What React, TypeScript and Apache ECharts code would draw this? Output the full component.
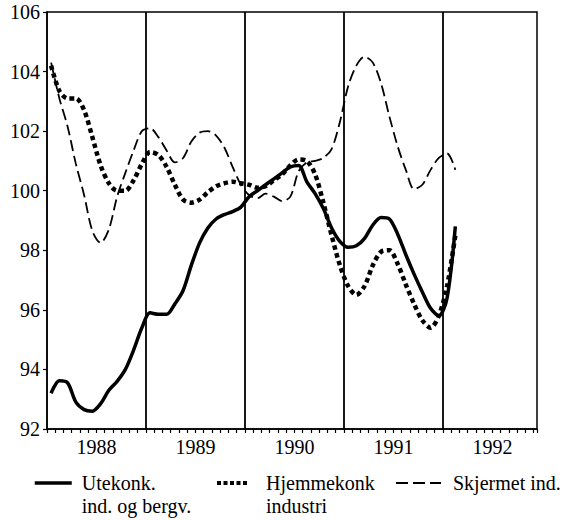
import { useEffect, useRef } from "react";
import * as echarts from "echarts";

const years = [1988, 1989, 1990, 1991, 1992];
const seriesNames = ["Utekonk. ind. og bergv.", "Hjemmekonk industri", "Skjermet ind."];
const legendLines = [["Utekonk.", "ind. og bergv."], ["Hjemmekonk", "industri"], ["Skjermet ind."]];

// Monthly values, Jan 1988 – Feb 1992
const utekonk = [
  93.2, 93.62, 93.55, 92.9, 92.65, 92.6, 92.85, 93.3, 93.6, 94.0,
  94.65, 95.4, 95.9, 95.85, 95.85, 96.2, 96.65, 97.5, 98.25, 98.75,
  99.05, 99.2, 99.3, 99.45, 99.8, 100.0, 100.2, 100.4, 100.6, 100.8,
  100.85, 100.3, 99.9, 99.4, 98.75, 98.3, 98.1, 98.15, 98.4, 98.85,
  99.1, 99.05, 98.55, 97.85, 97.2, 96.6, 96.05, 95.8, 96.4, 98.8,
];
const hjemmekonk = [
  104.2, 103.35, 103.1, 103.1, 102.7, 101.8, 100.85, 100.25, 100.0, 100.0,
  100.35, 100.9, 101.3, 101.2, 100.8, 100.2, 99.7, 99.6, 99.7, 99.95,
  100.15, 100.25, 100.3, 100.25, 100.2, 100.1, 100.15, 100.35, 100.55, 100.85,
  101.05, 101.0, 100.55, 99.6, 98.5, 97.5, 96.8, 96.5, 96.8, 97.5,
  97.95, 98.0, 97.55, 96.85, 96.2, 95.65, 95.4, 95.8, 96.8, 98.5,
];
const skjermet = [
  104.3, 103.1, 102.15, 100.9, 99.85, 98.65, 98.25, 98.7, 99.8, 100.6,
  101.35, 102.0, 102.1, 101.8, 101.35, 100.95, 101.1, 101.65, 101.95, 102.0,
  101.85, 101.45, 100.8, 100.2, 99.85, 99.75, 99.9, 99.8, 99.65, 99.8,
  100.65, 100.95, 101.0, 101.1, 101.4, 102.3, 103.5, 104.2, 104.5, 104.3,
  103.6, 102.5, 101.5, 100.7, 100.05, 100.2, 100.7, 101.1, 101.25, 100.7,
];

const FONT = "'Liberation Serif', 'Times New Roman', serif";

function toPoints(values: number[]) {
  return values.map((v, i) => [i + 0.5, v]);
}

export default function App() {
  const ref = useRef<HTMLDivElement>(null);
  useEffect(() => {
    document.body.style.margin = "0";
    const chart = echarts.init(ref.current!, null, { renderer: "svg" });
    const lineStyles = [
      { color: "#000", width: 3.5, type: "solid" as const },
      { color: "#000", width: 4.5, type: [4.5, 3.5] as any, cap: "butt" as const },
      { color: "#000", width: 1.8, type: [11, 5] as any },
    ];
    const legendLineStyles = [
      { color: "#000", width: 3.5, type: "solid" as const },
      { color: "#000", width: 4, type: [4, 2.5] as any, cap: "butt" as const },
      { color: "#000", width: 2, type: [12, 5] as any },
    ];
    const dataSets = [utekonk, hjemmekonk, skjermet];
    const legendLefts = [33, 215, 395];
    const legendWidths = [37, 30, 45];
    const legendPads = [5, 14, 7];
    const LH = 23;
    const iconY = 483;
    chart.setOption({
      animation: false,
      backgroundColor: "#fff",
      grid: {
        left: 47,
        right: 31,
        top: 12,
        bottom: 91,
        show: true,
        borderColor: "#000",
        borderWidth: 1.5,
        backgroundColor: "transparent",
      },
      xAxis: {
        type: "value",
        min: 0,
        max: 59.4,
        interval: 1,
        axisLine: { show: true, lineStyle: { color: "#000", width: 1.5 } },
        axisTick: { show: true, length: 4, lineStyle: { color: "#000", width: 1.2 } },
        splitLine: { show: false },
        axisLabel: {
          margin: 8,
          color: "#000",
          fontFamily: FONT,
          fontSize: 20,
          formatter: (v: number) => {
            const m = Math.round(v);
            if (Math.abs(v - m) > 0.01 || m % 12 !== 6) return "";
            return String(years[Math.floor(m / 12)]);
          },
        },
      },
      yAxis: {
        type: "value",
        min: 92,
        max: 106,
        interval: 2,
        offset: 3,
        axisLine: { show: true, lineStyle: { color: "#000", width: 1.5 } },
        axisTick: { show: true, length: 4, lineStyle: { color: "#000", width: 1.2 } },
        splitLine: { show: false },
        axisLabel: { margin: 4, color: "#000", fontFamily: FONT, fontSize: 20 },
      },
      legend: seriesNames.map((name, i) => {
        const lines = legendLines[i];
        const text = lines.length > 1 ? [" ", ...lines].join("\n") : lines[0];
        const blockH = lines.length > 1 ? 3 * LH : LH;
        return {
          data: [name],
          left: legendLefts[i],
          top: iconY - blockH / 2,
          padding: 0,
          itemWidth: legendWidths[i],
          itemHeight: 14,
          itemStyle: { opacity: 0 },
          lineStyle: legendLineStyles[i],
          formatter: () => text,
          textStyle: {
            fontFamily: FONT,
            fontSize: 20,
            color: "#000",
            lineHeight: LH,
            padding: [0, 0, 0, legendPads[i]],
          },
        };
      }),
      series: seriesNames.map((name, i) => ({
        name,
        type: "line",
        data: toPoints(dataSets[i]),
        symbol: "none",
        smooth: 0.3,
        color: "#000",
        lineStyle: lineStyles[i],
        z: 3 - i,
        markLine:
          i === 0
            ? {
                silent: true,
                symbol: ["none", "none"],
                label: { show: false },
                lineStyle: { color: "#000", width: 1.8, type: "solid" },
                data: years.slice(1).map((_, k) => ({ xAxis: (k + 1) * 12 })),
              }
            : undefined,
      })),
    });
    return () => chart.dispose();
  }, []);
  return <div ref={ref} style={{ width: 568, height: 520 }} />;
}
